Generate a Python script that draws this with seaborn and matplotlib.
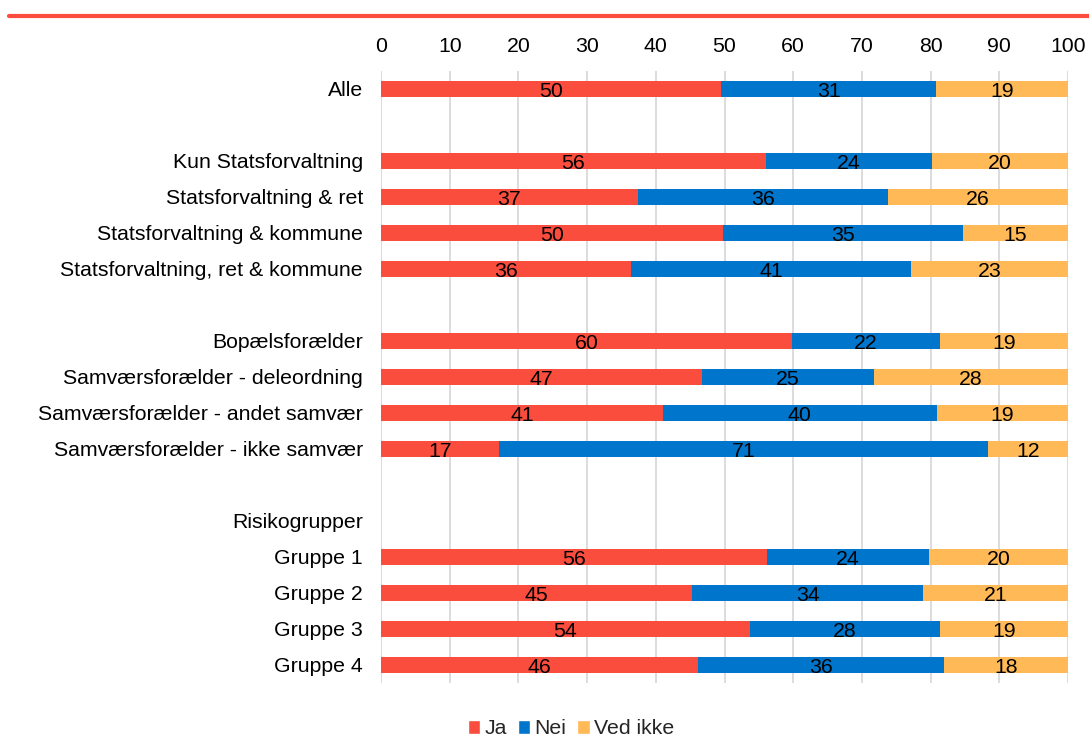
import pandas as pd
import matplotlib.pyplot as plt
import seaborn as sns
from matplotlib.patches import Patch
from matplotlib.lines import Line2D

# =======================
# Data
# =======================
categories = [
    "Alle", " ",
    "Kun Statsforvaltning", "Statsforvaltning & ret",
    "Statsforvaltning & kommune", "Statsforvaltning, ret & kommune", "  ",
    "Bopælsforælder", "Samværsforælder - deleordning",
    "Samværsforælder - andet samvær", "Samværsforælder - ikke samvær", "   ",
    "Risikogrupper", "Gruppe 1", "Gruppe 2", "Gruppe 3", "Gruppe 4",
]
nan = float("nan")
ja = [49.5, nan, 56.0, 37.4, 49.8, 36.4, nan, 59.8, 46.7, 41.0, 17.2, nan, nan, 56.2, 45.3, 53.7, 46.1]
nei = [31.3, nan, 24.2, 36.4, 34.9, 40.7, nan, 21.6, 25.1, 39.9, 71.2, nan, nan, 23.6, 33.6, 27.7, 35.9]
ved_ikke = [19.2, nan, 19.8, 26.2, 15.3, 22.9, nan, 18.6, 28.2, 19.1, 11.6, nan, nan, 20.2, 21.1, 18.6, 18.0]

series = ["Ja", "Nei", "Ved ikke"]
colors = ["#FB4D3D", "#0075CC", "#FFB957"]

df = pd.DataFrame({"kategori": categories, "Ja": ja, "Nei": nei, "Ved ikke": ved_ikke})
df["cum_ja"] = df["Ja"]
df["cum_nei"] = df["Ja"] + df["Nei"]
df["cum_ved"] = df["cum_nei"] + df["Ved ikke"]

# =======================
# Plot
# =======================
sns.set_theme(style="white")
plt.rcParams["font.family"] = ["Liberation Sans", "DejaVu Sans"]
fs = 15.3

fig = plt.figure(figsize=(10.89, 7.37), dpi=100)
ax = fig.add_axes([381 / 1089, 1 - 683 / 737, 687 / 1089, 612 / 737])

# stacked bars: draw cumulative totals from back to front
for col, color in zip(["cum_ved", "cum_nei", "cum_ja"], colors[::-1]):
    sns.barplot(data=df, y="kategori", x=col, order=categories, color=color,
                orient="h", width=0.45, saturation=1, ax=ax, linewidth=0)

# labels in segment centres
for i, row in df.iterrows():
    if pd.isna(row["Ja"]):
        continue
    left = 0
    for s in series:
        v = row[s]
        ax.text(left + v / 2, i + 0.08, f"{v:.0f}", ha="center", va="center",
                fontsize=fs, color="black")
        left += v

ax.set_xlim(0, 100)
ax.set_ylim(16.5, -0.5)
ax.set_xticks(range(0, 101, 10))
ax.xaxis.tick_top()
ax.tick_params(axis="x", length=0, pad=10.5, labelsize=fs, colors="black")
ax.tick_params(axis="y", length=0, pad=13, labelsize=fs, colors="black")
ax.set_xlabel("")
ax.set_ylabel("")
ax.grid(axis="x", color="#D9D9D9", linewidth=1.3)
ax.set_axisbelow(True)
for sp in ax.spines.values():
    sp.set_visible(False)

handles = [Patch(facecolor=c, label=s) for s, c in zip(series, colors)]
fig.legend(handles=handles, loc="center", bbox_to_anchor=(571 / 1089, 1 - 729 / 737),
           ncol=3, frameon=False, fontsize=fs, handlelength=0.6, handleheight=0.6,
           handletextpad=0.2, columnspacing=0.5, borderpad=0)

# red line at top
fig.add_artist(Line2D([9 / 1089, 1], [1 - 16 / 737] * 2, color="#FB4D3D", linewidth=3))

plt.savefig("out.png", dpi=100)
plt.close()
